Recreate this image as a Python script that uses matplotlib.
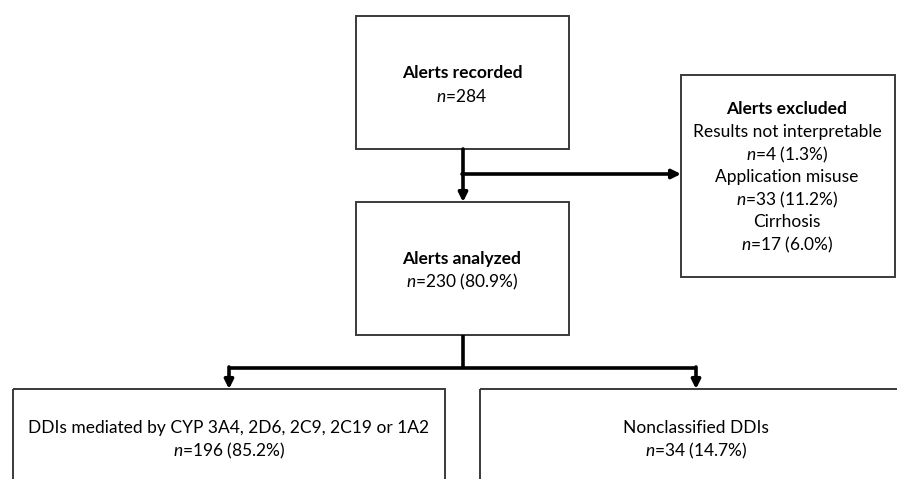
import matplotlib
matplotlib.use("Agg")
import matplotlib.pyplot as plt
from matplotlib.patches import Rectangle, FancyArrowPatch

plt.rcParams['font.family'] = ['Lato', 'DejaVu Sans']
plt.rcParams['mathtext.fontset'] = 'custom'
plt.rcParams['mathtext.it'] = 'Lato:italic'
plt.rcParams['mathtext.rm'] = 'Lato'

# flow data
n_recorded = 284
n_analyzed = 230
pct_analyzed = 80.9
excluded_reasons = ["Results not interpretable", "Application misuse", "Cirrhosis"]
excluded_n = [4, 33, 17]
excluded_pct = [1.3, 11.2, 6.0]
group_labels = ["DDIs mediated by CYP 3A4, 2D6, 2C9, 2C19 or 1A2", "Nonclassified DDIs"]
group_n = [196, 34]
group_pct = [85.2, 14.7]

W, H = 897, 479
fig = plt.figure(figsize=(W / 100, H / 100), dpi=100)
ax = fig.add_axes([0, 0, 1, 1])
ax.set_xlim(0, W)
ax.set_ylim(H, 0)
ax.axis('off')

box_kw = dict(fill=False, edgecolor='#3a3a3a', linewidth=1.4)
fs = 12.5


def box(x0, y0, x1, y1):
    ax.add_patch(Rectangle((x0, y0), x1 - x0, y1 - y0, **box_kw))


def ntext(n, pct=None):
    s = r"$\it{n}$=" + str(n)
    if pct is not None:
        s += " (%.1f%%)" % pct
    return s


def line(xs, ys):
    ax.plot(xs, ys, color='black', lw=2.6, solid_capstyle='butt')


def arrow(p0, p1):
    ax.add_patch(FancyArrowPatch(p0, p1, arrowstyle='-|>', mutation_scale=13,
                                 color='black', lw=2.6, shrinkA=0, shrinkB=0))


# boxes
box(356, 16, 569, 149)
box(356, 202, 569, 335)
box(681, 75, 895, 277)
box(13, 389, 445, 500)
box(480, 389, 915, 500)

# top box
ax.text(462, 73, "Alerts recorded", ha='center', va='center', fontsize=fs, fontweight='bold')
ax.text(462, 96, ntext(n_recorded), ha='center', va='center', fontsize=fs)

# analyzed box
ax.text(462, 259, "Alerts analyzed", ha='center', va='center', fontsize=fs, fontweight='bold')
ax.text(462, 282, ntext(n_analyzed, pct_analyzed), ha='center', va='center', fontsize=fs)

# excluded box
ex_x = 787
ax.text(ex_x, 109, "Alerts excluded", ha='center', va='center', fontsize=fs, fontweight='bold')
y = 132
for reason, n, p in zip(excluded_reasons, excluded_n, excluded_pct):
    ax.text(ex_x, y, reason, ha='center', va='center', fontsize=fs)
    ax.text(ex_x, y + 22.5, ntext(n, p), ha='center', va='center', fontsize=fs)
    y += 45

# bottom boxes
centers = [229, 696]
for cx, lab, n, p in zip(centers, group_labels, group_n, group_pct):
    ax.text(cx, 428, lab, ha='center', va='center', fontsize=fs)
    ax.text(cx, 451, ntext(n, p), ha='center', va='center', fontsize=fs)

# connectors
arrow((463, 149), (463, 202))
arrow((462, 174), (681, 174))
line([463, 463], [335, 368])
line([229, 696], [368, 368])
for cx in centers:
    arrow((cx, 367), (cx, 389))

fig.savefig("out.png", dpi=100)
